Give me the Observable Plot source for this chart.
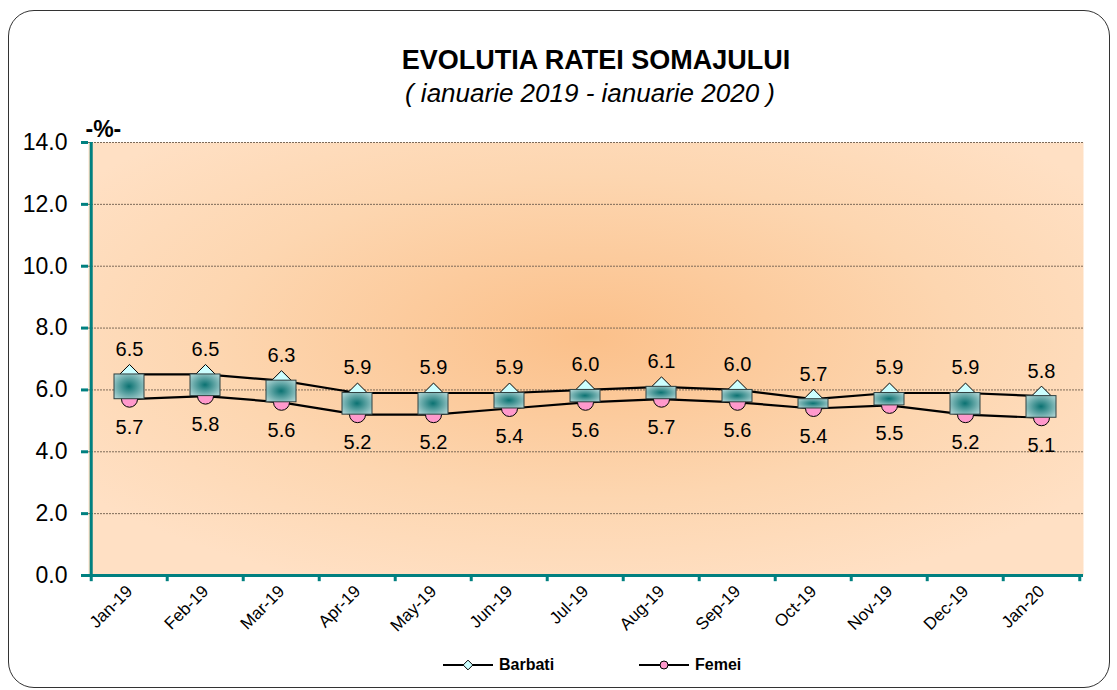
<!DOCTYPE html>
<html><head><meta charset="utf-8">
<script src="https://cdn.jsdelivr.net/npm/d3@7"></script>
<script src="https://cdn.jsdelivr.net/npm/@observablehq/plot@0.6"></script>
<style>
body{margin:0;background:#fff;font-family:"Liberation Sans",Arial,sans-serif;}
#wrap{position:relative;width:1117px;height:690px;overflow:hidden;}
#border{position:absolute;left:8px;top:10px;width:1102px;height:678px;border:1px solid #333;border-radius:26px;box-sizing:border-box;}
#title{position:absolute;left:596px;top:47px;transform:translateX(-50%);font-weight:bold;font-size:27px;line-height:1;white-space:nowrap;}
#subtitle{position:absolute;left:590px;top:80px;transform:translateX(-50%);font-style:italic;font-size:26px;line-height:1;white-space:nowrap;}
#chart{position:absolute;left:0;top:100px;}
#legend{position:absolute;top:656px;left:443px;height:18px;font-weight:bold;font-size:16px;white-space:nowrap;}
#legend .item{position:absolute;top:0;display:flex;align-items:center;}
#legend svg{margin-right:6px;}
</style></head>
<body>
<div id="wrap">
  <div id="border"></div>
  <div id="chart"></div>
  <div id="title">EVOLUTIA RATEI SOMAJULUI</div>
  <div id="subtitle">( ianuarie 2019 - ianuarie 2020 )</div>
  <div id="legend"></div>
</div>
<script>
const months = ["Jan-19","Feb-19","Mar-19","Apr-19","May-19","Jun-19","Jul-19","Aug-19","Sep-19","Oct-19","Nov-19","Dec-19","Jan-20"];
const barbati = [6.5, 6.5, 6.3, 5.9, 5.9, 5.9, 6.0, 6.1, 6.0, 5.7, 5.9, 5.9, 5.8];
const femei   = [5.7, 5.8, 5.6, 5.2, 5.2, 5.4, 5.6, 5.7, 5.6, 5.4, 5.5, 5.2, 5.1];
const yTicks = [0, 2, 4, 6, 8, 10, 12, 14];
const seriesNames = ["Barbati", "Femei"];

const data = months.map((m, i) => ({month: m, barbati: barbati[i], femei: femei[i]}));

const W = 1117, ML = 88, MR = 34;
const half = (W - ML - MR) / months.length / 2;
const teal = "#008080";
const font = "'Liberation Sans', Arial, sans-serif";

const svg = Plot.plot({
  width: W, height: 540,
  marginTop: 42, marginBottom: 65, marginLeft: ML, marginRight: MR,
  style: {fontFamily: font, background: "transparent", overflow: "visible", color: "black"},
  x: {type: "band", domain: months, paddingInner: 0.6, paddingOuter: 0.3, label: null},
  y: {domain: [0, 14], label: null},
  marks: [
    Plot.frame({fill: "url(#bg)", stroke: "none"}),
    Plot.gridY(yTicks.slice(1), {stroke: "#7d6a58", strokeOpacity: 1, strokeDasharray: "2,1", strokeWidth: 1}),
    Plot.axisY(yTicks, {tickFormat: d3.format(".1f"), tickSize: 7, tickPadding: 14, fontSize: 23, stroke: teal, strokeWidth: 3, fill: "black"}),
    Plot.axisX({tickRotate: -45, tickSize: 0, tickPadding: 13, fontSize: 17, fill: "black"}),
    Plot.ruleX(months, {x: d => d, y1: 0, y2: -0.2, dx: -half, stroke: teal, strokeWidth: 3}),
    Plot.ruleX(months.slice(-1), {x: d => d, y1: 0, y2: -0.2, dx: half, stroke: teal, strokeWidth: 3}),
    Plot.ruleX(months.slice(0, 1), {x: d => d, y1: 0, y2: 14, dx: -half, stroke: teal, strokeWidth: 3}),
    Plot.ruleY([0], {stroke: teal, strokeWidth: 3}),
    Plot.lineY(data, {x: "month", y: "barbati", stroke: "black", strokeWidth: 2.2}),
    Plot.lineY(data, {x: "month", y: "femei", stroke: "black", strokeWidth: 2.2}),
    Plot.dot(data, {x: "month", y: "barbati", symbol: "diamond2", r: 9, fill: "#ccffff", stroke: "black", strokeWidth: 1}),
    Plot.dot(data, {x: "month", y: "femei", r: 8, fill: "#ff99cc", stroke: "black", strokeWidth: 1}),
    Plot.barY(data, {x: "month", y1: "femei", y2: "barbati", fill: "url(#tealgrad)", stroke: "#2f4040", strokeWidth: 1}),
    Plot.text(data, {x: "month", y: "barbati", text: d => d.barbati.toFixed(1), dy: -25, fontSize: 20, fill: "black"}),
    Plot.text(data, {x: "month", y: "femei", text: d => d.femei.toFixed(1), dy: 28, fontSize: 20, fill: "black"}),
    Plot.text(["-%-"], {frameAnchor: "top-left", dx: -3, dy: -22, textAnchor: "start", fontWeight: "bold", fontSize: 23, fill: "black"})
  ]
});

const defs = d3.select(svg).insert("defs", ":first-child");
const bg = defs.append("radialGradient").attr("id", "bg").attr("cx", "0.5").attr("cy", "0.45").attr("r", "0.62");
bg.append("stop").attr("offset", "0").attr("stop-color", "#fbc08a");
bg.append("stop").attr("offset", "0.6").attr("stop-color", "#fdd6b0");
bg.append("stop").attr("offset", "1").attr("stop-color", "#ffe0c4");
const tg = defs.append("radialGradient").attr("id", "tealgrad").attr("cx", "0.5").attr("cy", "0.5").attr("r", "0.62");
tg.append("stop").attr("offset", "0").attr("stop-color", "#0b7272");
tg.append("stop").attr("offset", "1").attr("stop-color", "#a8d0d0");

document.getElementById("chart").appendChild(svg);

// legend
const legend = d3.select("#legend");
const legendLeft = [0, 196];
const legendFill = ["#ccffff", "#ff99cc"];
seriesNames.forEach((name, i) => {
  const item = legend.append("div").attr("class", "item").style("left", legendLeft[i] + "px");
  const s = item.append("svg").attr("width", 50).attr("height", 18);
  s.append("line").attr("x1", 0).attr("x2", 50).attr("y1", 9).attr("y2", 9).attr("stroke", "black").attr("stroke-width", 2);
  if (i === 0) s.append("path").attr("d", d3.symbol(d3.symbolDiamond2, 60)()).attr("transform", "translate(25,9)").attr("fill", legendFill[i]).attr("stroke", "black");
  else s.append("circle").attr("cx", 25).attr("cy", 9).attr("r", 4).attr("fill", legendFill[i]).attr("stroke", "black");
  item.append("span").text(name);
});
</script>
</body></html>
